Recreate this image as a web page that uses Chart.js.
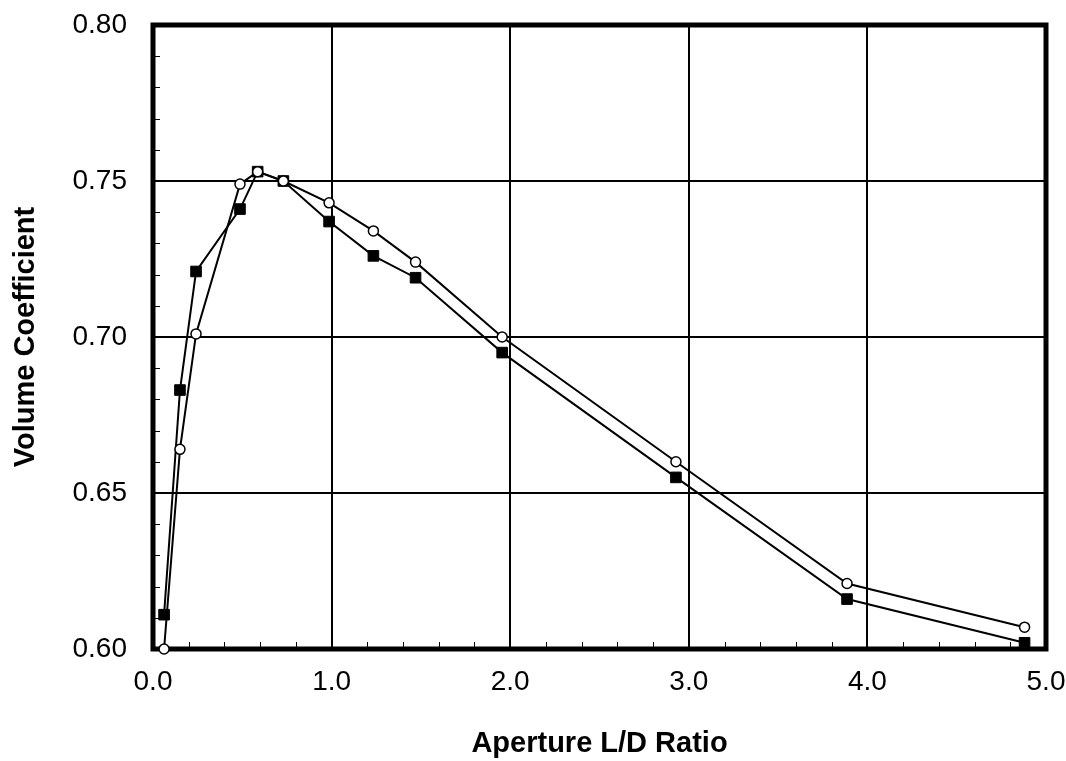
<!DOCTYPE html>
<html>
<head>
<meta charset="utf-8">
<script src="https://cdn.jsdelivr.net/npm/chart.js@4/dist/chart.umd.min.js"></script>
<style>
  html, body { margin: 0; padding: 0; background: #fff; }
  #wrap { width: 1066px; height: 761px; position: relative; }
</style>
</head>
<body>
<div id="wrap"><canvas id="chart"></canvas></div>
<script>
// aperture L/D ratio, shared by both series
var ldRatio = [0.062, 0.151, 0.241, 0.487, 0.586, 0.730, 0.986, 1.234, 1.470, 1.955, 2.928, 3.886, 4.880];
// open circles
var coefOpen = [0.600, 0.664, 0.701, 0.749, 0.753, 0.750, 0.743, 0.734, 0.724, 0.700, 0.660, 0.621, 0.607];
// filled squares
var coefFilled = [0.611, 0.683, 0.721, 0.741, 0.753, 0.750, 0.737, 0.726, 0.719, 0.695, 0.655, 0.616, 0.602];

var xMin = 0, xMax = 5, xMinor = 0.2, xMajor = 1;
var yMin = 0.6, yMax = 0.8, yMinor = 0.01, yMajor = 0.05;

var FONT = "'Liberation Sans', Arial, sans-serif";

function points(xs, ys) {
  var out = [];
  for (var i = 0; i < xs.length; i++) out.push({ x: xs[i], y: ys[i] });
  return out;
}

function isMult(v, step) {
  var r = v / step;
  return Math.abs(r - Math.round(r)) < 1e-6;
}

// thick frame and small inward minor ticks
var framePlugin = {
  id: 'frame',
  beforeDatasetsDraw(chart) {
    var ctx = chart.ctx, a = chart.chartArea;
    var xs = chart.scales.x, ys = chart.scales.y;
    ctx.save();
    ctx.strokeStyle = '#000';
    ctx.lineWidth = 1;
    ctx.beginPath();
    xs.ticks.forEach(function (t) {
      var px = Math.round(xs.getPixelForValue(t.value)) + 0.5;
      ctx.moveTo(px, a.bottom);
      ctx.lineTo(px, a.bottom - 7);
    });
    ys.ticks.forEach(function (t) {
      var py = Math.round(ys.getPixelForValue(t.value)) + 0.5;
      ctx.moveTo(a.left, py);
      ctx.lineTo(a.left + 7, py);
    });
    ctx.stroke();
    ctx.lineWidth = 5;
    ctx.strokeRect(a.left, a.top, a.right - a.left, a.bottom - a.top);
    ctx.restore();
  }
};

new Chart(document.getElementById('chart'), {
  type: 'scatter',
  data: {
    datasets: [
      {
        label: 'open',
        data: points(ldRatio, coefOpen),
        showLine: true,
        borderColor: '#000',
        borderWidth: 2,
        pointStyle: 'circle',
        pointRadius: 5,
        pointBorderWidth: 1.5,
        pointBackgroundColor: '#fff',
        pointBorderColor: '#000',
        clip: false
      },
      {
        label: 'filled',
        data: points(ldRatio, coefFilled),
        showLine: true,
        borderColor: '#000',
        borderWidth: 2,
        pointStyle: 'rect',
        pointRadius: 7.5,
        pointBorderWidth: 1,
        pointBackgroundColor: '#000',
        pointBorderColor: '#000',
        clip: false
      }
    ]
  },
  options: {
    responsive: true,
    maintainAspectRatio: false,
    animation: false,
    layout: { padding: { left: 0, right: 20, top: 25, bottom: 0 } },
    plugins: {
      legend: { display: false },
      tooltip: { enabled: false }
    },
    scales: {
      x: {
        type: 'linear',
        min: xMin,
        max: xMax,
        border: { display: false },
        grid: {
          drawTicks: false,
          color: function (c) { return isMult(c.tick.value, xMajor) ? '#000' : 'rgba(0,0,0,0)'; },
          lineWidth: function (c) { return isMult(c.tick.value, xMajor) ? 2 : 0; }
        },
        ticks: {
          stepSize: xMinor,
          autoSkip: false,
          maxRotation: 0,
          minRotation: 0,
          padding: 16,
          color: '#000',
          font: { family: FONT, size: 28 },
          callback: function (v) { return isMult(v, xMajor) ? Number(v).toFixed(1) : ''; }
        },
        title: {
          display: true,
          text: 'Aperture L/D Ratio',
          color: '#000',
          font: { family: FONT, size: 29, weight: 'bold' },
          padding: { top: 0, bottom: 0 }
        },
        afterFit: function (s) {
          s.height = 112;
          s.paddingLeft = 0; s.paddingRight = 0;
        }
      },
      y: {
        type: 'linear',
        min: yMin,
        max: yMax,
        border: { display: false },
        grid: {
          drawTicks: false,
          color: function (c) { return isMult(c.tick.value, yMajor) ? '#000' : 'rgba(0,0,0,0)'; },
          lineWidth: function (c) { return isMult(c.tick.value, yMajor) ? 2 : 0; }
        },
        ticks: {
          stepSize: yMinor,
          autoSkip: false,
          padding: 26,
          color: '#000',
          font: { family: FONT, size: 28 },
          callback: function (v) { return isMult(v, yMajor) ? Number(v).toFixed(2) : ''; }
        },
        title: {
          display: true,
          text: 'Volume Coefficient',
          color: '#000',
          font: { family: FONT, size: 29, weight: 'bold' },
          padding: { top: 9, bottom: 0 }
        },
        afterFit: function (s) {
          s.width = 153;
          s.paddingTop = 0; s.paddingBottom = 0;
        }
      }
    }
  },
  plugins: [framePlugin]
});
</script>
</body>
</html>
